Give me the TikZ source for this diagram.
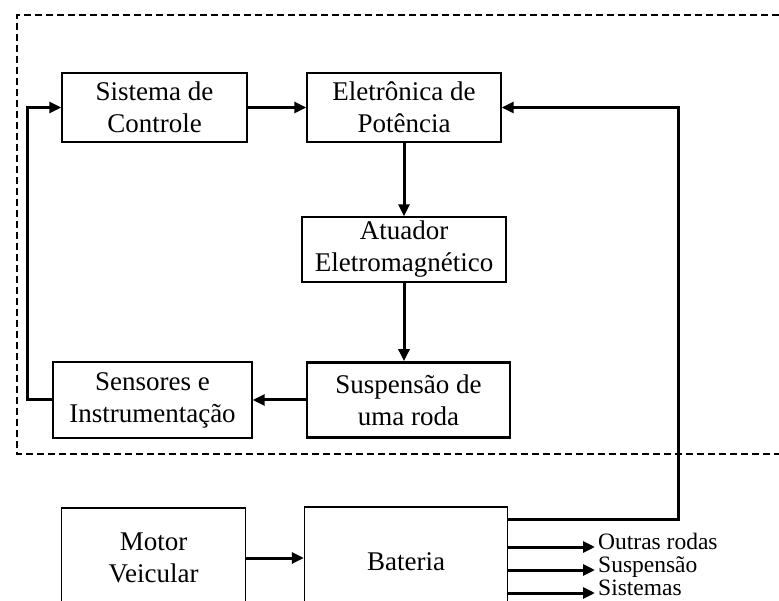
\documentclass[tikz,border=0pt]{standalone}
\usepackage{fontspec}
\setmainfont{Liberation Serif}
\usetikzlibrary{positioning,arrows.meta,calc}
\tikzset{
  box/.style={draw=black,line width=1.4pt,align=center,inner sep=2pt,
              font=\fontsize{27}{32}\selectfont},
  boldbox/.style={box,line width=2.8pt},
  arrow/.style={-{Triangle[length=12pt,width=11pt]},line width=3pt,color=black},
  frame/.style={line width=2pt,dash pattern=on 7pt off 4pt},
  lbl/.style={font=\fontsize{23.5}{27}\selectfont,anchor=west,inner xsep=3pt,
              text height=0.7em,text depth=0.25em},
}
\begin{document}
\begin{tikzpicture}[x=1pt,y=-1pt]
  \useasboundingbox (0,0) rectangle (779,601);
  \clip (0,0) rectangle (779,601);
  \draw[frame] (779,15) -| (17,454) -- (779,454);

  \node[box,minimum width=185pt,minimum height=69pt] (sis) at (154.5,107.5) {Sistema de\\Controle};
  \node[box,minimum width=194pt,minimum height=69pt] (pot) at (404,107.5) {Eletrônica de\\Potência};
  \node[box,minimum width=204pt,minimum height=65pt] (atu) at (404,249.5) {Atuador\\Eletromagnético};
  \node[boldbox,minimum width=203pt,minimum height=75pt] (sus) at (408.5,400) {Suspensão de\\uma roda};
  \node[box,minimum width=199pt,minimum height=76pt] (sen) at (152.5,400) {Sensores e\\Instrumentação};
  \node[box,minimum width=184pt,minimum height=100pt] (mot) at (153.5,558) {Motor\\Veicular};
  \node[box,minimum width=203pt,minimum height=110pt] (bat) at (406,562) {Bateria};

  \draw[arrow] (sis) -- (pot);
  \draw[arrow] (pot) -- (atu);
  \draw[arrow] (atu) -- (atu |- sus.north);
  \draw[arrow] (sus) -- (sen);
  \draw[arrow] (sen.west) -- ++(-25,0) |- (sis.west);
  \draw[arrow] (mot.east) -- (bat.west |- mot.east);
  \draw[arrow] ([yshift=-13pt]bat.north east) -- ++(170,0) |- (pot.east);

  \foreach \i/\y/\txt in {1/547/Outras rodas,2/570/Suspensão,3/593/Sistemas}{
    \node[lbl] (o\i) at (595,\y) {\txt};
    \draw[arrow] (bat.east |- o\i.west) -- (o\i.west);
  }
\end{tikzpicture}
\end{document}
